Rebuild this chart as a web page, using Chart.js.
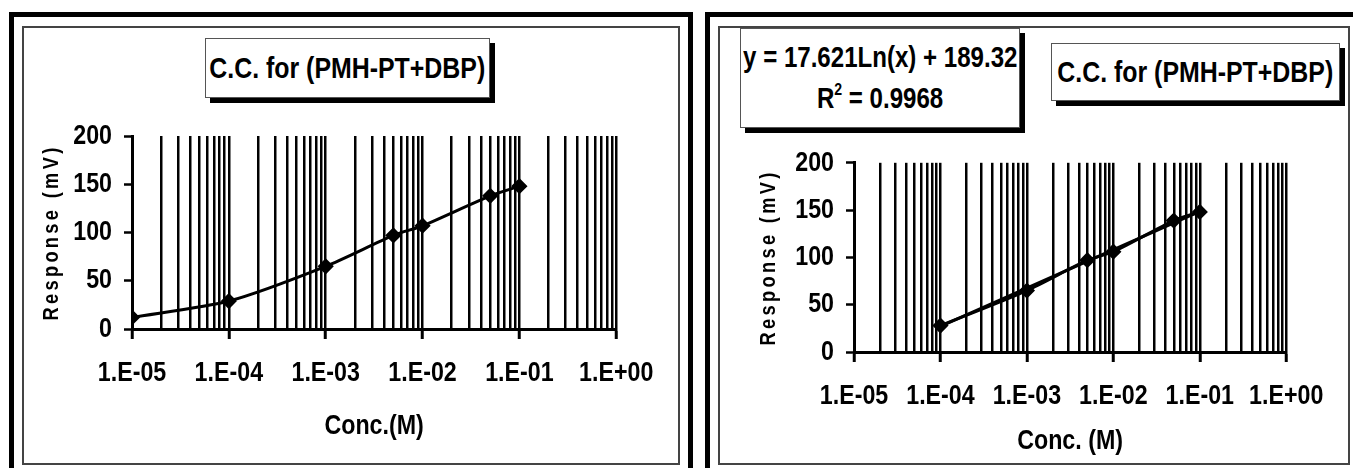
<!DOCTYPE html>
<html>
<head>
<meta charset="utf-8">
<script src="https://cdn.jsdelivr.net/npm/chart.js@4/dist/chart.umd.min.js"></script>
<style>
  body { margin: 0; width: 1353px; height: 468px; overflow: hidden; background: #fff; position: relative; }
  .outer { position: absolute; border: 5px solid #000; }
  .inner { position: absolute; border: 2px solid #444; }
  .box {
    position: absolute; border: 1px solid #555; background: #fff;
    box-shadow: 5px 5px 0 #000;
    display: flex; flex-direction: column; align-items: center; justify-content: center;
    font-family: 'Liberation Sans', Arial, sans-serif; font-weight: bold;
    color: #000; box-sizing: border-box; white-space: nowrap;
  }
  .box span { display: block; flex: none; transform: scaleX(0.83); transform-origin: 50% 50%; }
  canvas { position: absolute; }
</style>
</head>
<body>
<div class="outer" style="left:9px;top:12px;width:674px;height:480px"></div>
<div class="inner" style="left:22px;top:26px;width:654px;height:435px"></div>
<div class="box" style="left:205px;top:38px;width:285px;height:60px;font-size:30px"><span>C.C. for (PMH-PT+DBP)</span></div>
<canvas id="left" width="656" height="363" style="left:22px;top:100px"></canvas>

<div class="outer" style="left:705px;top:12px;width:680px;height:480px"></div>
<div class="inner" style="left:718px;top:26px;width:628px;height:435px"></div>
<div class="box" style="left:740px;top:28px;width:280px;height:100px;font-size:29px;line-height:41px"><span>y = 17.621Ln(x) + 189.32</span><span>R<sup style="font-size:17px;line-height:0;vertical-align:13px">2</sup> = 0.9968</span></div>
<div class="box" style="left:1051px;top:43px;width:289px;height:58px;font-size:30px"><span>C.C. for (PMH-PT+DBP)</span></div>
<canvas id="right" width="630" height="329" style="left:718px;top:134px"></canvas>

<script>
// log concentration axis
const decades = [1e-5, 1e-4, 1e-3, 1e-2, 1e-1, 1];
const decadeLabels = ['1.E-05', '1.E-04', '1.E-03', '1.E-02', '1.E-01', '1.E+00'];
const yTicks = [0, 50, 100, 150, 200];

// calibration data, left panel
const concLeft = [1e-5, 1e-4, 1e-3, 5e-3, 1e-2, 5e-2, 1e-1];
const respLeft = [12, 29, 65, 97, 107, 138, 148];

// calibration data, right panel (linear range)
const concRight = [1e-4, 1e-3, 5e-3, 1e-2, 5e-2, 1e-1];
const respRight = [28, 65, 97, 106, 139, 148];

// log trendline y = a*ln(x) + b
const fitA = 17.621;
const fitB = 189.32;

const arial = "'Liberation Sans', Arial, sans-serif";

// minor grid at 1..9 x 10^k
const gridValues = [];
decades.forEach((d, i) => {
  if (i < decades.length - 1) {
    for (let m = 1; m <= 9; m++) gridValues.push(m * d);
  } else {
    gridValues.push(d);
  }
});

function isDecade(v) {
  const l = Math.log10(v);
  return Math.abs(l - Math.round(l)) < 1e-9;
}

// squeeze text horizontally like Arial Narrow (skipped for the letter-spaced y title)
const condense = {
  id: 'condense',
  beforeInit(chart) {
    const ctx = chart.ctx;
    const orig = ctx.fillText;
    ctx.fillText = function (text, x, y, maxWidth) {
      if (this.letterSpacing && this.letterSpacing !== '0px') {
        return orig.call(this, text, x, y);
      }
      let w = this.measureText(text).width * 0.83;
      if (maxWidth !== undefined && maxWidth < w) w = maxWidth;
      if (w <= 0) return;
      return orig.call(this, text, x, y, w);
    };
  }
};

const spacedTitle = {
  id: 'spacedTitle',
  beforeDraw(chart) {
    const s = chart.scales.y;
    if (s._spaced) return;
    const orig = s.drawTitle;
    s.drawTitle = function () {
      this.ctx.save();
      this.ctx.letterSpacing = '4px';
      orig.call(this);
      this.ctx.restore();
    };
    s._spaced = true;
  }
};

function makeChart(id, datasets, cfg) {
  return new Chart(document.getElementById(id), {
    type: 'line',
    data: { datasets: datasets },
    options: {
      responsive: false,
      animation: false,
      layout: { padding: { top: cfg.padTop, right: cfg.padRight, left: 0, bottom: 0 } },
      plugins: { legend: { display: false }, tooltip: { enabled: false }, title: { display: false } },
      scales: {
        x: {
          type: 'logarithmic',
          min: decades[0],
          max: decades[decades.length - 1],
          afterBuildTicks: (scale) => { scale.ticks = gridValues.map(v => ({ value: v })); },
          afterFit: (scale) => { scale.height = cfg.xHeight; },
          ticks: {
            autoSkip: false,
            maxRotation: 0,
            padding: 17,
            color: '#000',
            font: { family: arial, size: 28, weight: 'bold' },
            callback: (v) => {
              const i = decades.findIndex(d => Math.abs(d - v) / d < 1e-6);
              return i >= 0 ? decadeLabels[i] : '';
            }
          },
          grid: {
            color: '#000',
            lineWidth: 2.5,
            tickLength: 10,
            tickWidth: 3,
            tickColor: (c) => (c.tick && isDecade(c.tick.value)) ? '#000' : 'rgba(0,0,0,0)'
          },
          border: { display: true, color: '#000', width: 3 },
          title: {
            display: true,
            text: cfg.xTitle,
            color: '#000',
            font: { family: arial, size: 28, weight: 'bold' },
            padding: { top: 0, bottom: cfg.xTitlePad }
          }
        },
        y: {
          min: 0,
          max: 200,
          afterBuildTicks: (scale) => { scale.ticks = yTicks.map(v => ({ value: v })); },
          afterFit: (scale) => { scale.width = cfg.yWidth; },
          ticks: {
            padding: 12,
            color: '#000',
            font: { family: arial, size: 28, weight: 'bold' }
          },
          grid: { drawOnChartArea: false, tickLength: 8, tickWidth: 2.5, tickColor: '#000' },
          border: { display: true, color: '#000', width: 3 },
          title: {
            display: true,
            text: 'Response (mV)',
            color: '#000',
            font: { family: arial, size: 22, weight: 'bold' },
            padding: { top: cfg.yTitlePad, bottom: 0 }
          }
        }
      }
    },
    plugins: [condense, spacedTitle]
  });
}

const lineStyle = {
  borderColor: '#000',
  backgroundColor: '#000',
  borderWidth: 3,
  pointStyle: 'rectRot',
  pointRadius: 6,
  pointBackgroundColor: '#000',
  pointBorderColor: '#000',
  tension: 0.25,
  fill: false
};

makeChart('left', [
  Object.assign({ label: 'Response', data: concLeft.map((x, i) => ({ x: x, y: respLeft[i] })) }, lineStyle)
], { padTop: 36, padRight: 56, xHeight: 134, yWidth: 110, xTitle: 'Conc.(M)', xTitlePad: 20, yTitlePad: 17 });

const xa = concRight[0];
const xb = concRight[concRight.length - 1];
makeChart('right', [
  Object.assign({ label: 'Response', data: concRight.map((x, i) => ({ x: x, y: respRight[i] })) }, lineStyle),
  {
    label: 'Log. fit',
    data: [{ x: xa, y: fitA * Math.log(xa) + fitB }, { x: xb, y: fitA * Math.log(xb) + fitB }],
    borderColor: '#000',
    borderWidth: 3,
    pointRadius: 0,
    tension: 0,
    fill: false
  }
], { padTop: 20, padRight: 40, xHeight: 111, yWidth: 136, xTitle: 'Conc. (M)', xTitlePad: 5, yTitlePad: 38 });
</script>
</body>
</html>
